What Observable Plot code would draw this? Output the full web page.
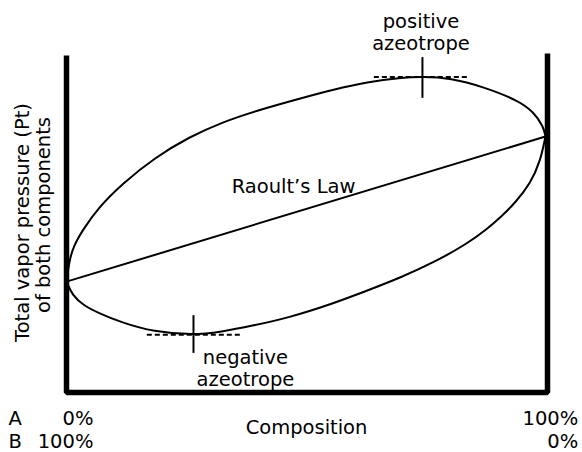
<!DOCTYPE html>
<html>
<head>
<meta charset="utf-8">
<script src="https://cdn.jsdelivr.net/npm/d3@7"></script>
<script src="https://cdn.jsdelivr.net/npm/@observablehq/plot@0.6"></script>
<style>
  html, body { margin: 0; padding: 0; background: #fff; }
  svg { display: block; }
</style>
</head>
<body>
<div id="chart"></div>
<script>
// Composition of A (%) along x, total vapour pressure (arbitrary units) along y
const upperX = [0, 0.31, 0.73, 1.46, 3.26, 6.72, 11.58, 18.5, 25.43, 32.37, 39.29, 48.65, 55.5, 62.58, 69.44, 74.0, 79.83, 86.69, 93.76, 97.09, 99.17, 99.58];
const upperY = [32.6, 35.9, 39.4, 42.9, 47.6, 54.5, 61.4, 69.2, 75.1, 79.5, 82.8, 86.5, 89.1, 91.3, 92.6, 92.9, 92.5, 89.9, 86.0, 82.6, 78.2, 75.3];

const lowerX = [0, 1.25, 3.53, 7.07, 11.23, 18.09, 26.4, 32.02, 38.88, 45.95, 55.5, 62.58, 69.44, 76.3, 83.37, 87.53, 90.23, 93.35, 96.47, 98.55, 99.58];
const lowerY = [32.6, 28.5, 25.6, 23.1, 20.7, 17.8, 16.9, 17.8, 19.7, 21.9, 26.2, 30.0, 33.8, 38.2, 43.8, 48.2, 51.5, 55.9, 61.5, 68.2, 75.3];

const raoultX = [0, 99.58];
const raoultY = [32.6, 75.3];

// azeotrope markers: x position, pressure, tick extent, dashed extent
const azeoNames = ["positive\nazeotrope", "negative\nazeotrope"];
const azeoX = [74.0, 26.4];
const azeoY = [92.8, 17.0];
const azeoTickY1 = [86.5, 22.6];
const azeoTickY2 = [98.5, 11.5];
const azeoDashX1 = [64.0, 16.8];
const azeoDashX2 = [83.6, 36.2];
const azeoLabelX = [73.7, 37.2];
const azeoLabelY = [100.6, 1.8];

// frame (axes drawn as thick lines)
const frameX = [0, 0, 100, 100];
const frameY = [99.1, 0, 0, 99.7];

const yLabelLines = ["Total vapor pressure (Pt)", "of both components"];
const yLabelX = [-7.9, -3.33];
const yLabelY = [50, 52.2];

const xTitle = "Composition";
const compLabels = ["A", "B", "0%", "100%", "100%", "0%"];
const compLabelX = [-12.06, -12.06, 5.6, 5.6, 106.4, 106.4];
const compLabelY = [-9.7, -16.2, -9.7, -16.2, -9.7, -16.2];
const compAnchor = ["start", "start", "end", "end", "end", "end"];

const zip = (xs, ys) => xs.map((x, i) => ({x, y: ys[i]}));
const upper = zip(upperX, upperY);
const lower = zip(lowerX, lowerY);
const raoult = zip(raoultX, raoultY);
const frame = zip(frameX, frameY);
const azeo = azeoNames.map((name, i) => ({
  name, x: azeoX[i], y: azeoY[i], t1: azeoTickY1[i], t2: azeoTickY2[i],
  d1: azeoDashX1[i], d2: azeoDashX2[i], lx: azeoLabelX[i], ly: azeoLabelY[i]
}));
const ylab = yLabelLines.map((t, i) => ({t, x: yLabelX[i], y: yLabelY[i]}));
const comp = compLabels.map((t, i) => ({t, x: compLabelX[i], y: compLabelY[i], a: compAnchor[i]}));

const FS = 19.5;
const FONT = "DejaVu Sans, Verdana, sans-serif";

const chart = Plot.plot({
  width: 582,
  height: 452,
  marginLeft: 66,
  marginRight: 35,
  marginTop: 52,
  marginBottom: 60,
  x: {domain: [0, 100], axis: null},
  y: {domain: [0, 100], axis: null},
  style: {fontFamily: FONT, fontSize: FS + "px", background: "#fff", color: "#000"},
  marks: [
    Plot.line(upper, {x: "x", y: "y", curve: "basis", stroke: "#000", strokeWidth: 2}),
    Plot.line(lower, {x: "x", y: "y", curve: "basis", stroke: "#000", strokeWidth: 2}),
    Plot.line(raoult, {x: "x", y: "y", stroke: "#000", strokeWidth: 2}),
    Plot.ruleY(azeo, {y: "y", x1: "d1", x2: "d2", stroke: "#000", strokeWidth: 2, strokeDasharray: "5,3"}),
    Plot.ruleX(azeo, {x: "x", y1: "t1", y2: "t2", stroke: "#000", strokeWidth: 2}),
    Plot.line(frame, {x: "x", y: "y", stroke: "#000", strokeWidth: 5.5, strokeLinejoin: "miter", strokeLinecap: "butt"}),
    Plot.text(azeo, {x: "lx", y: "ly", text: "name", textAnchor: "middle", lineAnchor: "bottom", lineHeight: 1.15, fontSize: FS, fill: "#000"}),
    Plot.text(["Raoult’s Law"], {x: [47.2], y: [58.8], text: d => d, textAnchor: "middle", lineAnchor: "bottom", fontSize: FS, fill: "#000"}),
    Plot.text(ylab, {x: "x", y: "y", text: "t", rotate: -90, textAnchor: "middle", lineAnchor: "bottom", fontSize: FS, fill: "#000"}),
    Plot.text([xTitle], {x: [49.9], y: [-12.1], text: d => d, textAnchor: "middle", lineAnchor: "bottom", fontSize: FS, fill: "#000"}),
    Plot.text(comp.filter(d => d.a === "start"), {x: "x", y: "y", text: "t", textAnchor: "start", lineAnchor: "bottom", fontSize: FS, fill: "#000"}),
    Plot.text(comp.filter(d => d.a === "end"), {x: "x", y: "y", text: "t", textAnchor: "end", lineAnchor: "bottom", fontSize: FS, fill: "#000"})
  ]
});
document.getElementById("chart").appendChild(chart);
</script>
</body>
</html>
